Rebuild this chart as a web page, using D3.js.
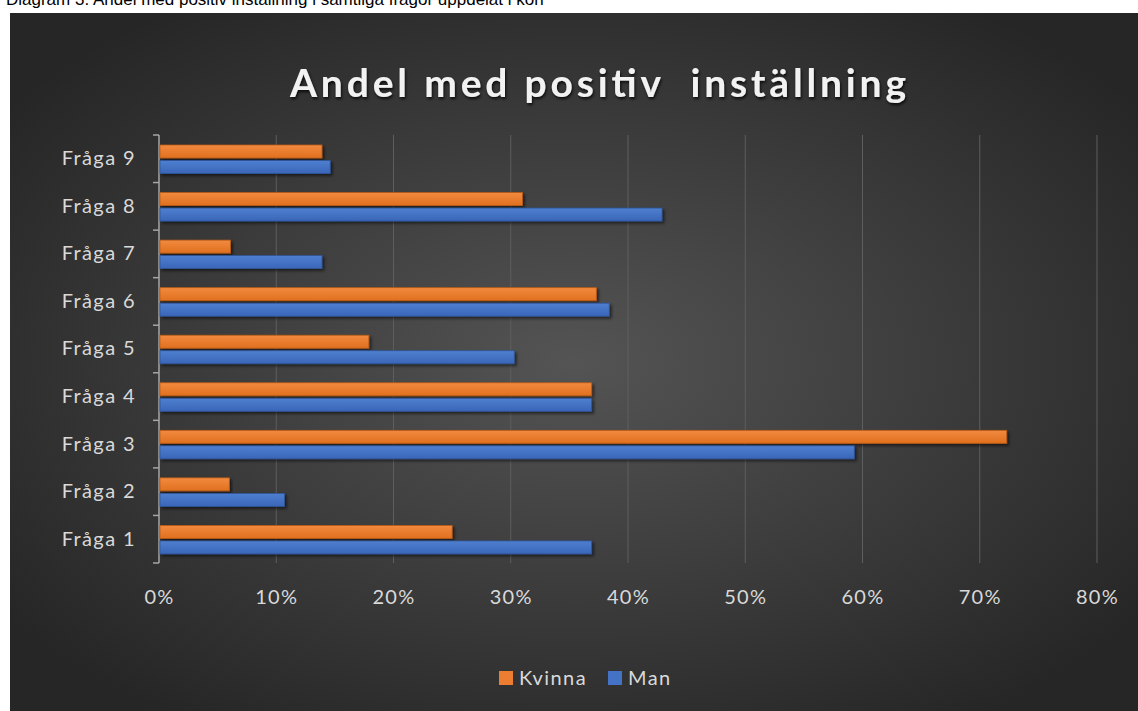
<!DOCTYPE html>
<html>
<head>
<meta charset="utf-8">
<script src="https://cdn.jsdelivr.net/npm/d3@7"></script>
<style>
  body { margin: 0; background: #fff; }
  svg { display: block; }
</style>
</head>
<body>
<div id="chart"></div>
<script>
// chart data
var categories = ["Fråga 1", "Fråga 2", "Fråga 3", "Fråga 4", "Fråga 5", "Fråga 6", "Fråga 7", "Fråga 8", "Fråga 9"]
var kvinna = [0.25, 0.06, 0.723, 0.369, 0.179, 0.373, 0.061, 0.31, 0.139]
var man = [0.369, 0.107, 0.593, 0.369, 0.303, 0.384, 0.139, 0.429, 0.146]
var seriesNames = ["Kvinna", "Man"]
var xTicks = [0, 0.1, 0.2, 0.3, 0.4, 0.5, 0.6, 0.7, 0.8]

var width = 1138,
    height = 711

var svg = d3.select("#chart")
  .append("svg")
    .attr("width", width)
    .attr("height", height)

var defs = svg.append("defs")

// background: dark radial gradient
var bg = defs.append("radialGradient")
  .attr("id", "bg")
  .attr("cx", "50%").attr("cy", "50%").attr("r", "62%")
bg.append("stop").attr("offset", "0%").attr("stop-color", "#545454")
bg.append("stop").attr("offset", "100%").attr("stop-color", "#262626")

function barGrad(id, light, dark) {
  var g = defs.append("linearGradient")
    .attr("id", id)
    .attr("x1", 0).attr("y1", 0).attr("x2", 0).attr("y2", 1)
  g.append("stop").attr("offset", "0%").attr("stop-color", light)
  g.append("stop").attr("offset", "100%").attr("stop-color", dark)
}
barGrad("gOrange", "#f28a3f", "#e0701f")
barGrad("gBlue", "#4f7fd0", "#3a66b8")

var shadow = defs.append("filter").attr("id", "shadow")
  .attr("x", "-5%").attr("y", "-30%").attr("width", "110%").attr("height", "180%")
shadow.append("feDropShadow")
  .attr("dx", 2).attr("dy", 2).attr("stdDeviation", 1.5)
  .attr("flood-color", "#000").attr("flood-opacity", 0.55)

var tshadow = defs.append("filter").attr("id", "tshadow")
  .attr("x", "-5%").attr("y", "-30%").attr("width", "110%").attr("height", "180%")
tshadow.append("feDropShadow")
  .attr("dx", 1).attr("dy", 2).attr("stdDeviation", 1.5)
  .attr("flood-color", "#000").attr("flood-opacity", 0.8)

// caption above the panel (cropped by the picture edge, as in the original)
svg.append("text")
  .attr("x", 6).attr("y", 5)
  .style("font-family", "Liberation Sans, Arial, sans-serif")
  .style("font-size", "17px")
  .attr("fill", "#000")
  .text("Diagram 3. Andel med positiv inställning i samtliga frågor uppdelat i kön")

// panel
svg.append("rect")
  .attr("x", 10).attr("y", 13)
  .attr("width", width - 10).attr("height", height - 13)
  .attr("fill", "url(#bg)")

// title
svg.append("text")
  .attr("x", 290).attr("y", 97)
  .attr("textLength", 616)
  .attr("lengthAdjust", "spacing")
  .attr("filter", "url(#tshadow)")
  .style("white-space", "pre")
  .style("font-family", "Lato, Open Sans, sans-serif")
  .style("font-weight", "bold")
  .style("font-size", "39px")
  .attr("fill", "#f2f2f2")
  .text("Andel med positiv  inställning")

var x0 = 159, x1 = 1097, yTop = 135, yBot = 563

var x = d3.scaleLinear().domain([0, 0.8]).range([x0, x1])
var y = d3.scaleBand().domain(categories.slice().reverse()).range([yTop, yBot])

var g = svg.append("g")

// gridlines
g.selectAll(".grid")
  .data(xTicks.slice(1))
  .enter().append("line")
    .attr("x1", function(d) { return x(d) }).attr("x2", function(d) { return x(d) })
    .attr("y1", yTop).attr("y2", yBot)
    .attr("stroke", "#5e5e5e").attr("stroke-width", 1)

// x tick labels
var xAxis = d3.axisBottom(x).tickValues(xTicks).tickFormat(d3.format(".0%")).tickSize(0).tickPadding(0)
var xg = g.append("g").attr("transform", "translate(0," + 604 + ")").call(xAxis)
xg.select(".domain").remove()
xg.selectAll("text")
  .attr("dy", 0).attr("y", 0)
  .attr("fill", "#d9d9d9")
  .style("font-family", "Lato, sans-serif")
  .style("font-size", "20px")
  .style("letter-spacing", "1.3px")

// y axis
var yAxis = d3.axisLeft(y).tickSize(0).tickPadding(0)
var yg = g.append("g").attr("transform", "translate(" + x0 + ",0)").call(yAxis)
yg.select(".domain").remove()
yg.selectAll("text")
  .attr("x", -23)
  .attr("fill", "#d9d9d9")
  .style("font-family", "Lato, sans-serif")
  .style("font-size", "20px")
  .style("letter-spacing", "1.4px")

// axis line and category boundary ticks
var bounds = categories.map(function(c) { return y(c) }).concat([yBot])
g.selectAll(".ytick")
  .data(bounds)
  .enter().append("line")
    .attr("x1", x0 - 6).attr("x2", x0)
    .attr("y1", function(d) { return d }).attr("y2", function(d) { return d })
    .attr("stroke", "#a6a6a6").attr("stroke-width", 1.5)
g.append("line")
  .attr("x1", x0).attr("x2", x0)
  .attr("y1", yTop).attr("y2", yBot)
  .attr("stroke", "#a6a6a6").attr("stroke-width", 1.5)

// bars
var barH = 13, gap = 2.5, offset = 10
function drawBars(vals, fill, stroke, idx) {
  g.selectAll(".bar" + idx)
    .data(categories)
    .enter().append("rect")
      .attr("x", x0 + 1)
      .attr("y", function(d) { return y(d) + offset + idx * (barH + gap) })
      .attr("width", function(d, i) { return x(vals[i]) - x0 - 1 })
      .attr("height", barH)
      .attr("fill", fill)
      .attr("stroke", stroke)
      .attr("stroke-width", 0.8)
      .attr("filter", "url(#shadow)")
}
drawBars(kvinna, "url(#gOrange)", "#b85a17", 0)
drawBars(man, "url(#gBlue)", "#2f559a", 1)

// legend
var legendColors = ["#ed7d31", "#4472c4"]
var legendX = [499, 608]
var legend = svg.selectAll(".legend")
  .data(seriesNames)
  .enter().append("g")
    .attr("transform", function(d, i) { return "translate(" + legendX[i] + ",671)" })
legend.append("rect")
  .attr("width", 14).attr("height", 14)
  .attr("fill", function(d, i) { return legendColors[i] })
legend.append("text")
  .attr("x", 20).attr("y", 14)
  .attr("fill", "#d9d9d9")
  .style("font-family", "Lato, sans-serif")
  .style("font-size", "20px")
  .style("letter-spacing", "1.4px")
  .text(function(d) { return d })
</script>
</body>
</html>
